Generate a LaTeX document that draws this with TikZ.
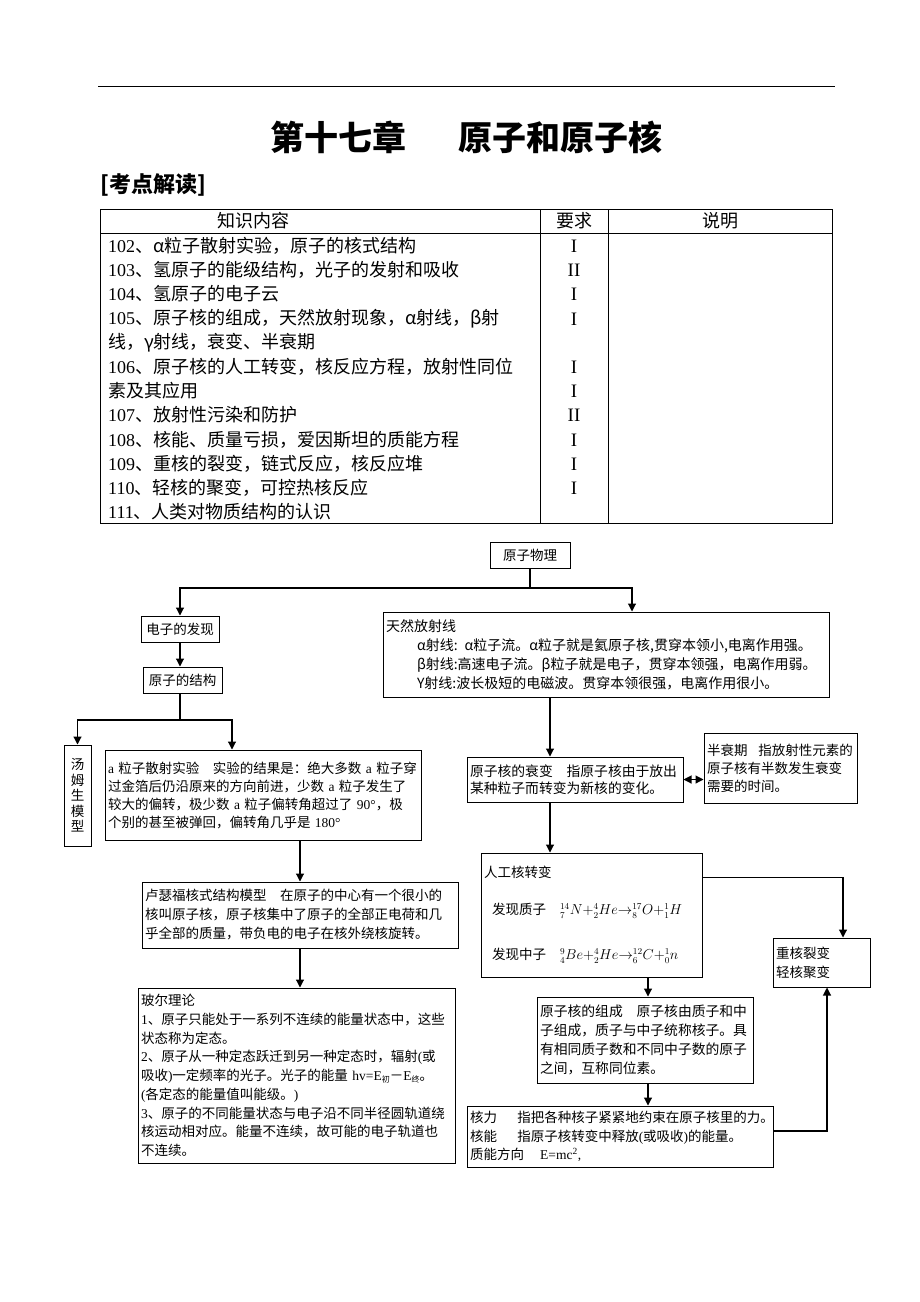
\documentclass[tikz,border=0pt]{standalone}
\usepackage{fontspec}
\setmainfont{Noto Sans CJK SC}
\newfontfamily\ser{Liberation Serif}
\usetikzlibrary{arrows.meta}
\newcommand\sbx[1]{\raisebox{-2pt}{\fontsize{8}{8}\selectfont #1}}
\begin{document}
\begin{tikzpicture}[x=1pt,y=-1pt,
  box/.style={draw, line width=1pt, inner xsep=3pt, inner ysep=0pt, align=left,
    font=\fontsize{13.5}{18.5}\selectfont},
  tx/.style={inner sep=0pt, anchor=west, font=\fontsize{18}{18}\selectfont},
  arr/.style={line width=1.1pt, -{Triangle[length=8pt,width=8pt]}},
  darr/.style={line width=1.1pt, {Triangle[length=8pt,width=8pt]}-{Triangle[length=8pt,width=8pt]}},
  ln/.style={line width=1.1pt},
  tab/.style={line width=0.9pt}]
\useasboundingbox[fill=white] (0,0) rectangle (920,1302);
% top rule and title
\draw[line width=1pt] (98,86) -- (835,86);
\node[font=\fontsize{34}{34}\selectfont\bfseries] (t1) at (338.5,137) {第十七章};
\node[font=\fontsize{34}{34}\selectfont\bfseries] (t2) at (560,137) {原子和原子核};
\node[anchor=west, inner sep=0pt, font=\fontsize{22}{22}\selectfont\bfseries] (kd) at (100,185) {[考点解读]};
% table
\draw[tab] (100,209) rectangle (832,523);
\draw[tab] (100,233) -- (832,233);
\draw[tab] (540,209) -- (540,523);
\draw[tab] (608,209) -- (608,523);
\node[tx, anchor=center] (h1) at (253,221) {知识内容};
\node[tx, anchor=center] (h2) at (574,221) {要求};
\node[tx, anchor=center] (h3) at (720,221) {说明};
\node[tx] (r1) at (108,246) {{\ser 102}、α粒子散射实验，原子的核式结构};
\node[tx] (r2) at (108,270) {{\ser 103}、氢原子的能级结构，光子的发射和吸收};
\node[tx] (r3) at (108,294) {{\ser 104}、氢原子的电子云};
\node[tx] (r4) at (108,319) {{\ser 105}、原子核的组成，天然放射现象，α射线，β射};
\node[tx] (r5) at (108,343) {线，γ射线，衰变、半衰期};
\node[tx] (r6) at (108,367) {{\ser 106}、原子核的人工转变，核反应方程，放射性同位};
\node[tx] (r7) at (108,391) {素及其应用};
\node[tx] (r8) at (108,415) {{\ser 107}、放射性污染和防护};
\node[tx] (r9) at (108,440) {{\ser 108}、核能、质量亏损，爱因斯坦的质能方程};
\node[tx] (r10) at (108,464) {{\ser 109}、重核的裂变，链式反应，核反应堆};
\node[tx] (r11) at (108,488) {{\ser 110}、轻核的聚变，可控热核反应};
\node[tx] (r12) at (108,512) {{\ser 111}、人类对物质结构的认识};
\foreach \yy/\lv in {246/I,270/II,294/I,319/I,367/I,391/I,415/II,440/I,464/I,488/I}
  \node[tx, anchor=center, font=\fontsize{19}{19}\selectfont\ser] at (574,\yy) {\lv};
% flowchart boxes
\node[box, align=center, minimum width=80, text width=74, minimum height=26] (phys) at (530,555) {原子物理};
\node[box, align=center, minimum width=78, text width=72, minimum height=26] (e1) at (180,629) {电子的发现};
\node[box, align=center, minimum width=79, text width=73, minimum height=26] (e2) at (182.5,680) {原子的结构};
\node[box, align=center, minimum width=27, text width=21, minimum height=101,
  font=\fontsize{13.5}{15.6}\selectfont] (tom) at (77.5,795.5) {汤\\姆\\生\\模\\型};
\node[box, text width=310, minimum height=90, font=\fontsize{13.5}{18}\selectfont] (alpha) at (263,795) {%
{\ser a} 粒子散射实验\quad 实验的结果是：绝大多数 {\ser a} 粒子穿\\
过金箔后仍沿原来的方向前进，少数 {\ser a} 粒子发生了\\
较大的偏转，极少数 {\ser a} 粒子偏转角超过了 {\ser 90°}，极\\
个别的甚至被弹回，偏转角几乎是 {\ser 180°}};
\node[box, text width=440, minimum height=85, font=\fontsize{14}{19}\selectfont] (rad) at (606,654.5) {%
天然放射线\\
\hspace*{31pt}α射线: α粒子流。α粒子就是氦原子核,贯穿本领小,电离作用强。\\
\hspace*{31pt}β射线:高速电子流。β粒子就是电子，贯穿本领强，电离作用弱。\\
\hspace*{31pt}Υ射线:波长极短的电磁波。贯穿本领很强，电离作用很小。};
\node[box, text width=210, minimum height=45, font=\fontsize{13.8}{17}\selectfont] (decay) at (575,779.5) {%
原子核的衰变\quad 指原子核由于放出\\
某种粒子而转变为新核的变化。};
\node[box, text width=147, minimum height=70, font=\fontsize{13.5}{18}\selectfont] (half) at (780.5,768) {%
半衰期\hspace{0.8em}指放射性元素的\\
原子核有半数发生衰变\\
需要的时间。};
\node[box, text width=310, minimum height=66, font=\fontsize{13.5}{19}\selectfont] (ruth) at (300,915) {%
卢瑟福核式结构模型\quad 在原子的中心有一个很小的\\
核叫原子核，原子核集中了原子的全部正电荷和几\\
乎全部的质量，带负电的电子在核外绕核旋转。};
\node[box, text width=215, minimum height=124] (art) at (591.5,915) {%
人工核转变\\[18pt]
\hspace*{8pt}发现质子\hspace{14pt}${}^{14}_{7}N{+}{}^{4}_{2}He{\rightarrow}{}^{17}_{8}O{+}{}^{1}_{1}H$\\[27pt]
\hspace*{8pt}发现中子\hspace{14pt}${}^{9}_{4}Be{+}{}^{4}_{2}He{\rightarrow}{}^{12}_{6}C{+}{}^{1}_{0}n$};
\node[box, text width=91, minimum height=49, font=\fontsize{13.5}{19}\selectfont] (heavy) at (821.5,962.5) {%
重核裂变\\轻核聚变};
\node[box, text width=311, minimum height=175, font=\fontsize{13.5}{18.75}\selectfont] (bohr) at (296.5,1075.5) {%
玻尔理论\\
{\ser 1}、原子只能处于一系列不连续的能量状态中，这些\\
状态称为定态。\\
{\ser 2}、原子从一种定态跃迁到另一种定态时，辐射{\ser (}或\\
吸收{\ser )}一定频率的光子。光子的能量 {\ser hv=E}\sbx{初}－{\ser E}\sbx{终}。\\
{\ser (}各定态的能量值叫能级。{\ser )}\\
{\ser 3}、原子的不同能量状态与电子沿不同半径圆轨道绕\\
核运动相对应。能量不连续，故可能的电子轨道也\\
不连续。};
\node[box, text width=210, minimum height=86, font=\fontsize{13.8}{19}\selectfont] (comp) at (645,1040) {%
原子核的组成\quad 原子核由质子和中\\
子组成，质子与中子统称核子。具\\
有相同质子数和不同中子数的原子\\
之间，互称同位素。};
\node[box, text width=300, minimum height=61, font=\fontsize{13.5}{18.5}\selectfont] (force) at (620,1136.5) {%
核力\hspace{1.5em}指把各种核子紧紧地约束在原子核里的力。\\
核能\hspace{1.5em}指原子核转变中释放{\ser (}或吸收{\ser )}的能量。\\
质能方向\hspace{1.2em}{\ser E=mc\textsuperscript{2},}};
% connectors
\coordinate (j1) at (530,588);
\draw[ln] (phys.south) -- (j1);
\draw[arr] (j1) -| (e1.north);
\draw[arr] (j1) -| ([xshift=26pt]rad.north);
\draw[arr] (e1.south) -- (e1.south |- e2.north);
\coordinate (j2) at (180,720);
\draw[ln] (e2.south -| j2) -- (j2);
\draw[arr] (j2) -| (tom.north);
\draw[arr] (j2) -| ([xshift=-31pt]alpha.north);
\draw[arr] ([xshift=37pt]alpha.south) -- ([xshift=37pt]alpha.south |- ruth.north);
\draw[arr] (ruth.south) -- (ruth.south |- bohr.north);
\draw[arr] ([xshift=-56pt]rad.south) -- ([xshift=-56pt]rad.south |- decay.north);
\draw[darr] (decay.east) -- (decay.east -| half.west);
\draw[arr] ([xshift=-25pt]decay.south) -- ([xshift=-25pt]decay.south |- art.north);
\draw[arr] ([yshift=-25pt]art.north east) -| ([xshift=21.5pt]heavy.north);
\draw[arr] ([xshift=56.5pt]art.south) -- ([xshift=56.5pt]art.south |- comp.north);
\draw[arr] ([xshift=3pt]comp.south) -- ([xshift=3pt]comp.south |- force.north);
\draw[arr] ([yshift=5.5pt]force.east) -| ([xshift=5.5pt]heavy.south);
\end{tikzpicture}
\end{document}
